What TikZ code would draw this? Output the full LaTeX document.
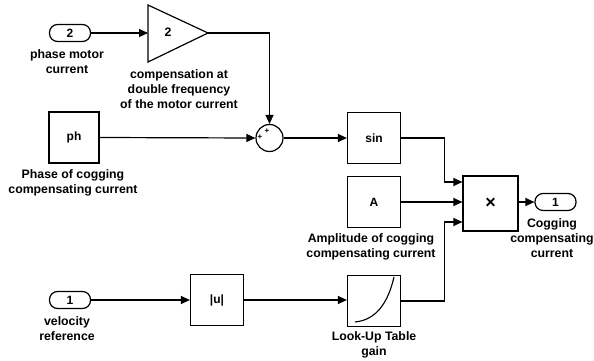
\documentclass[tikz,border=0pt]{standalone}
\usepackage{fontspec}
\setmainfont{Liberation Sans}
\usetikzlibrary{arrows.meta}
\tikzset{
  blk/.style={draw, line width=1.2pt, minimum width=53pt, minimum height=51pt, inner sep=0pt, font=\fontsize{12}{14}\selectfont\bfseries},
  port/.style={draw, line width=1.2pt, rounded corners=8pt, minimum width=41pt, minimum height=17pt, inner sep=0pt, font=\fontsize{12}{14}\selectfont\bfseries},
  lbl/.style={align=center, inner sep=0pt, font=\fontsize{12.3}{15}\selectfont\bfseries},
  sig/.style={draw, line width=1.2pt, -{Triangle[length=9pt,width=8pt]}},
  sumc/.style={draw, circle, line width=1.2pt, minimum size=27pt, inner sep=0pt},
  pls/.style={inner sep=0pt, font=\fontsize{8}{8}\selectfont\bfseries}
}
\begin{document}
\begin{tikzpicture}[x=1pt,y=-1pt]
\useasboundingbox (0,0) rectangle (594,361);
% inport 2 and gain
\node[port] (in2) at (70,33) {2};
\node[lbl] (in2l) at (67,61.5) {phase motor\\current};
\draw[line width=1.2pt] (148,5) -- (208,33) -- (148,62) -- cycle;
\coordinate (gin) at (148,33);
\coordinate (gout) at (208,33);
\node[lbl] (gval) at (168,32) {2};
\node[lbl] (gl) at (179,89) {compensation at\\double frequency\\of the motor current};
% sum
\node[sumc] (sum) at (269.5,138) {};
\node[pls] (p1) at (267,131) {+};
\node[pls] (p2) at (260,137.5) {+};
% ph
\node[blk, minimum width=50pt] (ph) at (74,137.5) {ph};
\node[lbl] (phl) at (73,183) {Phase of cogging\\compensating current};
% sin, A
\node[blk] (sin) at (374,138) {sin};
\node[blk] (amp) at (374,202) {A};
\node[lbl] (ampl) at (371,247) {Amplitude of cogging\\compensating current};
% product
\node[blk, minimum width=55pt, minimum height=55pt, font=\fontsize{18}{18}\selectfont\bfseries] (mult) at (490.5,203.5) {×};
% outport
\node[port] (out1) at (555.5,202) {1};
\node[lbl] (outl) at (552,238) {Cogging\\compensating\\current};
% velocity
\node[port] (in1) at (70,300) {1};
\node[lbl] (in1l) at (67,329) {velocity\\reference};
\node[blk] (abs) at (217,300) {|u|};
\node[blk] (lut) at (374,301) {};
\draw[line width=1.1pt] ([xshift=-19pt,yshift=-21pt]lut.center) .. controls ([xshift=2pt,yshift=-19pt]lut.center) and ([xshift=14pt,yshift=-2pt]lut.center) .. ([xshift=20pt,yshift=24pt]lut.center);
\node[lbl] (lutl) at (374,344.5) {Look-Up Table\\gain};
% connectors
\draw[sig] (in2.east) -- (gin);
\draw[sig] (gout) -| (sum.north);
\draw[sig] (ph.east) -- (sum.west);
\draw[sig] (sum.east) -- (sin.west);
\draw[sig] (sin.east) -- ++(43.5,0) |- ([yshift=21.5pt]mult.west);
\draw[sig] (amp.east) -- (amp.east -| mult.west);
\draw[sig] (lut.east) -- ++(43,0) |- ([yshift=-18.5pt]mult.west);
\draw[sig] (mult.east |- out1.west) -- (out1.west);
\draw[sig] (in1.east) -- (abs.west);
\draw[sig] (abs.east) -- (abs.east -| lut.west);
\end{tikzpicture}
\end{document}
